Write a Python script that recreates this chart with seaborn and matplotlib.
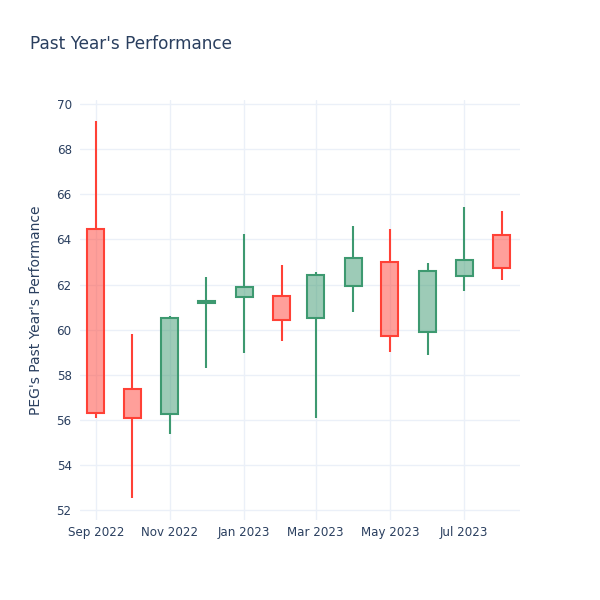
import pandas as pd
import matplotlib
matplotlib.use('Agg')
import matplotlib.pyplot as plt
import matplotlib.dates as mdates
import seaborn as sns

# Monthly candles
dates = ['2022-09-01', '2022-10-01', '2022-11-01', '2022-12-01', '2023-01-01', '2023-02-01',
         '2023-03-01', '2023-04-01', '2023-05-01', '2023-06-01', '2023-07-01', '2023-08-01']
open_vals = [64.46, 57.35, 56.27, 61.18, 61.43, 61.50, 60.53, 61.93, 63.01, 59.91, 62.39, 64.21]
high_vals = [69.25, 59.80, 60.60, 62.33, 64.22, 62.86, 62.54, 64.59, 64.45, 62.94, 65.42, 65.26]
low_vals = [56.08, 52.52, 55.37, 58.31, 58.98, 59.48, 56.07, 60.80, 59.00, 58.87, 61.72, 62.20]
close_vals = [56.30, 56.07, 60.50, 61.25, 61.90, 60.41, 62.42, 63.17, 59.73, 62.58, 63.09, 62.72]

df = pd.DataFrame({'date': pd.to_datetime(dates), 'open': open_vals, 'high': high_vals,
                   'low': low_vals, 'close': close_vals})
df['up'] = df['close'] >= df['open']
df['top'] = df[['open', 'close']].max(axis=1)
df['bottom'] = df[['open', 'close']].min(axis=1)

sns.set_theme(style='whitegrid')
plt.rcParams['font.family'] = ['DejaVu Sans']

text_color = '#2a3f5f'
up_color = '#3D9970'
down_color = '#FF4136'

fig = plt.figure(figsize=(6, 6), dpi=100)
ax = fig.add_axes([80 / 600, 80 / 600, 440 / 600, 420 / 600])
ax.set_facecolor('white')

lw = 1.5
for _, row in df.iterrows():
    color = up_color if row['up'] else down_color
    x = mdates.date2num(row['date'])
    # wicks
    ax.vlines([x, x], [row['low'], row['top']], [row['bottom'], row['high']],
              color=color, linewidth=lw, zorder=3)
    # body
    ax.bar(x, row['top'] - row['bottom'], bottom=row['bottom'], width=14,
           color=matplotlib.colors.to_rgba(color, 0.5), edgecolor=color,
           linewidth=lw, zorder=4)

ax.set_ylim(51.56, 70.18)
ax.set_xlim(pd.Timestamp('2022-08-19'), pd.Timestamp('2023-08-16'))
ax.set_yticks(range(52, 71, 2))
ax.xaxis.set_major_locator(mdates.MonthLocator(bymonth=[1, 3, 5, 7, 9, 11]))
ax.xaxis.set_major_formatter(mdates.DateFormatter('%b %Y'))

ax.grid(True, color='#EBF0F8', linewidth=1)
ax.set_axisbelow(True)
for s in ax.spines.values():
    s.set_visible(False)
ax.tick_params(axis='both', length=0, labelsize=8.6, colors=text_color)
ax.tick_params(axis='y', pad=6)
ax.tick_params(axis='x', pad=4)

ax.set_ylabel("PEG's Past Year's Performance", fontsize=10, color=text_color, labelpad=10)
fig.text(30 / 600, 1 - 44 / 600, "Past Year's Performance", fontsize=12.2,
         color=text_color, va='center', ha='left')

fig.savefig('out.png', dpi=100, facecolor='white')
